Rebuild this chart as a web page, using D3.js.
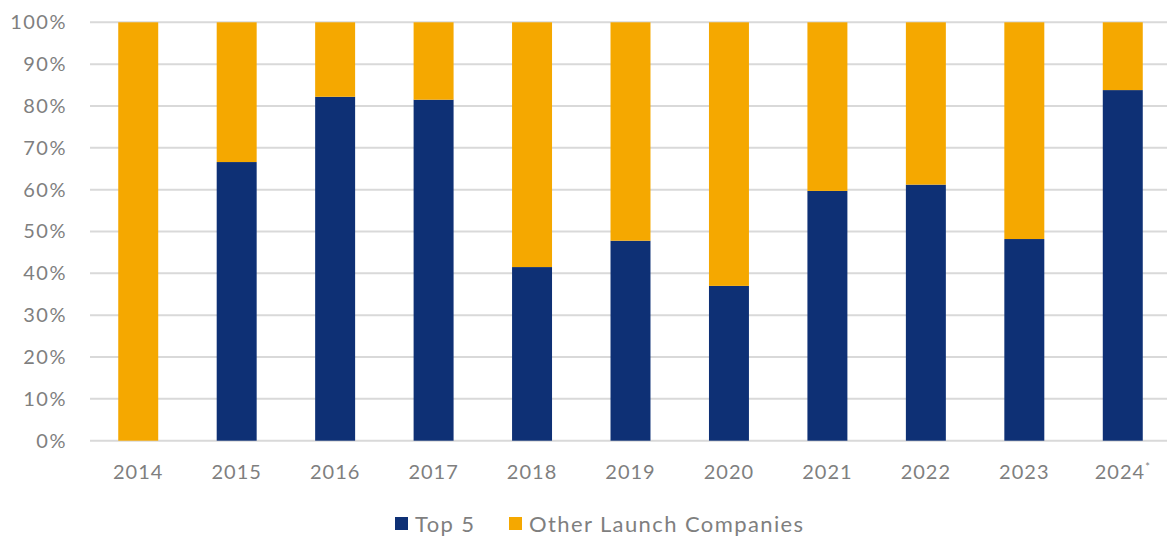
<!DOCTYPE html>
<html>
<head>
<meta charset="utf-8">
<script src="https://cdn.jsdelivr.net/npm/d3@7"></script>
<style>
  body { margin: 0; background: #fff; }
  svg text { font-family: Lato, "Open Sans", sans-serif; fill: #7f7f7f; }
</style>
</head>
<body>
<svg id="canvas" width="1167" height="536"></svg>
<script>
let years = ['2014', '2015', '2016', '2017', '2018', '2019', '2020', '2021', '2022', '2023', '2024'];
let top5 = [0, 0.666, 0.822, 0.815, 0.415, 0.478, 0.370, 0.597, 0.612, 0.482, 0.838];
let otherCompanies = top5.map((v) => 1 - v);
let yTicks = [0, 0.1, 0.2, 0.3, 0.4, 0.5, 0.6, 0.7, 0.8, 0.9, 1];
let seriesNames = ['Top 5', 'Other Launch Companies'];
let colors = ['#0e3075', '#f5a800'];

let canvas = d3.select('#canvas');

let xScale = d3.scaleBand().domain(years).range([89, 1172]).paddingInner(0.594).paddingOuter(0.297);
let yScale = d3.scaleLinear().domain([0, 1]).range([440.7, 22.3]);

// gridlines
canvas.append('g')
  .selectAll('line')
  .data(yTicks)
  .enter()
  .append('line')
  .attr('x1', 90)
  .attr('x2', 1167)
  .attr('y1', (t) => yScale(t))
  .attr('y2', (t) => yScale(t))
  .attr('stroke', '#d9d9d9')
  .attr('stroke-width', 2);

// y axis labels
let yAxis = d3.axisLeft(yScale).tickValues(yTicks).tickFormat(d3.format('.0%')).tickSize(0).tickPadding(0);
let yG = canvas.append('g').attr('transform', 'translate(67,0)').call(yAxis);
yG.select('.domain').remove();
yG.selectAll('text')
  .style('font-size', '20px')
  .style('letter-spacing', '1.5px')
  .style('font-family', 'Lato, sans-serif')
  .attr('fill', '#7f7f7f');

// stacked bars
let rows = years.map((y, i) => ({ year: y, top5: top5[i], other: otherCompanies[i] }));
let stack = d3.stack().keys(['top5', 'other']);
let layers = stack(rows);

canvas.append('g')
  .selectAll('g')
  .data(layers)
  .enter()
  .append('g')
  .attr('fill', (d, i) => colors[i])
  .selectAll('rect')
  .data((d) => d)
  .enter()
  .append('rect')
  .attr('x', (d) => xScale(d.data.year))
  .attr('width', xScale.bandwidth())
  .attr('y', (d) => yScale(d[1]))
  .attr('height', (d) => yScale(d[0]) - yScale(d[1]));

// x axis labels
let xAxis = d3.axisBottom(xScale).tickSize(0).tickPadding(0);
let xG = canvas.append('g').attr('transform', 'translate(0,479)').call(xAxis);
xG.select('.domain').remove();
xG.selectAll('text')
  .attr('dy', 0)
  .style('font-size', '20px')
  .style('letter-spacing', '1px')
  .style('font-family', 'Lato, sans-serif')
  .attr('fill', '#7f7f7f');
xG.selectAll('.tick')
  .filter((d) => d === '2024')
  .select('text')
  .append('tspan')
  .attr('dy', -8)
  .style('font-size', '11px')
  .text('*');

// legend
let legendX = [395, 509];
let legend = canvas.append('g');
seriesNames.forEach((name, i) => {
  legend.append('rect')
    .attr('x', legendX[i])
    .attr('y', 517)
    .attr('width', 13)
    .attr('height', 13)
    .attr('fill', colors[i]);
  legend.append('text')
    .attr('x', legendX[i] + 20)
    .attr('y', 532)
    .style('font-size', '22px')
    .style('letter-spacing', '1.4px')
    .text(name);
});
</script>
</body>
</html>
